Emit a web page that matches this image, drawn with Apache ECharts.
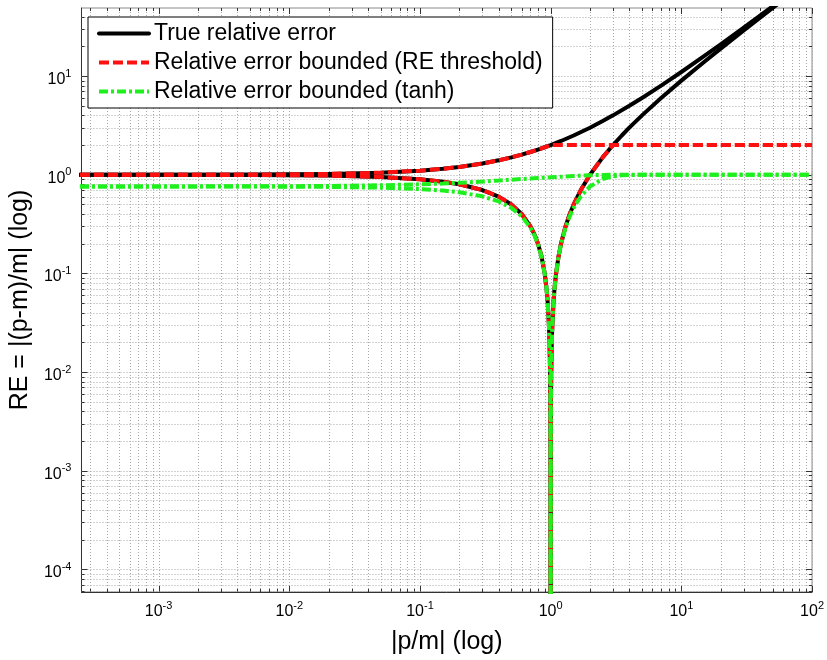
<!DOCTYPE html>
<html>
<head>
<meta charset="utf-8">
<script src="https://cdn.jsdelivr.net/npm/echarts/dist/echarts.min.js"></script>
<style>
html,body{margin:0;padding:0;background:#fff;}
#chart{width:827px;height:660px;}
</style>
</head>
<body>
<div id="chart"></div>
<script>
// ---- Data ----
// Upper branch (p and m of opposite sign)
const xUpper   = [0.00025, 0.0005, 0.001, 0.002, 0.005, 0.01, 0.02, 0.05, 0.1, 0.15, 0.2, 0.3, 0.4, 0.5, 0.6, 0.7, 0.8, 0.9, 1, 1.2, 1.5, 2, 2.5, 3, 4, 5, 7, 10, 15, 20, 30, 50, 70, 100];
const trueUpper = [1.00025, 1.0005, 1.001, 1.002, 1.005, 1.01, 1.02, 1.05, 1.1, 1.15, 1.2, 1.3, 1.4, 1.5, 1.6, 1.7, 1.8, 1.9, 2, 2.2, 2.5, 3, 3.5, 4, 5, 6, 8, 11, 16, 21, 31, 51, 71, 101];
const reUpper   = [1.00025, 1.0005, 1.001, 1.002, 1.005, 1.01, 1.02, 1.05, 1.1, 1.15, 1.2, 1.3, 1.4, 1.5, 1.6, 1.7, 1.8, 1.9, 2, 2, 2, 2, 2, 2, 2, 2, 2, 2, 2, 2, 2, 2, 2, 2];
const tanhUpper = [0.7617, 0.7618, 0.7620, 0.7624, 0.7637, 0.7658, 0.7699, 0.7818, 0.8000, 0.8150, 0.8290, 0.8530, 0.8740, 0.8910, 0.9050, 0.9160, 0.9260, 0.9340, 0.9410, 0.9550, 0.9720, 0.9880, 0.9960, 0.9990, 0.9999, 1, 1, 1, 1, 1, 1, 1, 1, 1];

// Lower branch, left of |p/m| = 1
const xLeft    = [0.00025, 0.0005, 0.001, 0.002, 0.005, 0.01, 0.02, 0.05, 0.1, 0.15, 0.2, 0.3, 0.4, 0.5, 0.6, 0.7, 0.75, 0.8, 0.85, 0.9, 0.93, 0.95, 0.97, 0.98, 0.99, 0.995, 0.998, 0.999, 0.9995, 0.9998, 0.9999, 0.99995, 0.99999];
const trueLeft = [0.99975, 0.9995, 0.999, 0.998, 0.995, 0.99, 0.98, 0.95, 0.9, 0.85, 0.8, 0.7, 0.6, 0.5, 0.4, 0.3, 0.25, 0.2, 0.15, 0.1, 0.07, 0.05, 0.03, 0.02, 0.01, 0.005, 0.002, 0.001, 0.0005, 0.0002, 0.0001, 0.00005, 0.00001];
const reLeft   = [0.99975, 0.9995, 0.999, 0.998, 0.995, 0.99, 0.98, 0.95, 0.9, 0.85, 0.8, 0.7, 0.6, 0.5, 0.4, 0.3, 0.25, 0.2, 0.15, 0.1, 0.07, 0.05, 0.03, 0.02, 0.01, 0.005, 0.002, 0.001, 0.0005, 0.0002, 0.0001, 0.00005, 0.00001];
const tanhLeft = [0.7615, 0.7614, 0.7612, 0.7607, 0.7595, 0.7574, 0.7531, 0.7398, 0.7163, 0.6911, 0.6640, 0.6044, 0.5370, 0.4621, 0.3799, 0.2913, 0.2449, 0.1974, 0.1489, 0.0997, 0.0699, 0.0500, 0.0300, 0.0200, 0.0100, 0.005, 0.002, 0.001, 0.0005, 0.0002, 0.0001, 0.00005, 0.00001];

// Lower branch, right of |p/m| = 1
const xRight    = [1.00001, 1.00005, 1.0001, 1.0002, 1.0005, 1.001, 1.002, 1.005, 1.01, 1.02, 1.03, 1.05, 1.07, 1.1, 1.15, 1.2, 1.3, 1.4, 1.5, 1.7, 2, 2.5, 3, 3.5, 4, 5, 7, 10, 15, 20, 30, 50, 70, 100];
const trueRight = [0.00001, 0.00005, 0.0001, 0.0002, 0.0005, 0.001, 0.002, 0.005, 0.01, 0.02, 0.03, 0.05, 0.07, 0.1, 0.15, 0.2, 0.3, 0.4, 0.5, 0.7, 1, 1.5, 2, 2.5, 3, 4, 6, 9, 14, 19, 29, 49, 69, 99];
const reRight   = [0.00001, 0.00005, 0.0001, 0.0002, 0.0005, 0.001, 0.002, 0.005, 0.01, 0.02, 0.03, 0.05, 0.07, 0.1, 0.15, 0.2, 0.3, 0.4, 0.5, 0.7, 1, 1.5, 2, 2, 2, 2, 2, 2, 2, 2, 2, 2, 2, 2];
const tanhRight = [0.00001, 0.00005, 0.0001, 0.0002, 0.0005, 0.001, 0.002, 0.005, 0.01, 0.02, 0.03, 0.05, 0.0699, 0.0997, 0.1489, 0.1974, 0.2913, 0.3799, 0.4621, 0.6044, 0.7616, 0.9051, 0.9640, 0.9866, 0.9951, 0.9993, 1, 1, 1, 1, 1, 1, 1, 1];

const seriesNames = ['True relative error', 'Relative error bounded (RE threshold)', 'Relative error bounded (tanh)'];

// Axis ranges and grid decades
const X_MIN = 2.57e-4, X_MAX = 100;
const Y_MIN = 5.9e-5, Y_MAX = 49;
const xDecades = [1e-4, 1e-3, 1e-2, 1e-1, 1, 10, 100];
const yDecades = [1e-5, 1e-4, 1e-3, 1e-2, 1e-1, 1, 10];
const multipliers = [1, 2, 3, 4, 5, 6, 7, 8, 9];

function gridValues(decades, lo, hi) {
  const out = [];
  decades.forEach(d => multipliers.forEach(m => {
    const v = d * m;
    if (v >= lo * 0.9999 && v <= hi * 1.0001) out.push([v, m === 1 ? 1 : 0]);
  }));
  return out;
}
const xGrid = gridValues(xDecades, X_MIN, X_MAX);
const yGrid = gridValues(yDecades, Y_MIN, Y_MAX);

const zip = (xs, ys) => xs.map((x, i) => [x, ys[i]]);

const chart = echarts.init(document.getElementById('chart'), null, {renderer: 'canvas'});
const FONT = 'Liberation Sans, Arial, Helvetica, sans-serif';
const GRID_STYLE = {stroke: '#a8a8a8', lineWidth: 1, lineDash: [1, 2]};
const px = v => Math.round(v) + 0.5;

function vGridItem(params, api) {
  const v = api.value(0);
  const a = api.coord([v, Y_MIN]), b = api.coord([v, Y_MAX]);
  const x = px(a[0]);
  const tl = api.value(2) ? 6 : 3;
  return {type: 'group', children: [
    {type: 'line', shape: {x1: x, y1: a[1], x2: x, y2: b[1]}, style: GRID_STYLE, silent: true},
    {type: 'line', shape: {x1: x, y1: a[1], x2: x, y2: a[1] - tl}, style: {stroke: '#333', lineWidth: 1}, silent: true},
    {type: 'line', shape: {x1: x, y1: b[1], x2: x, y2: b[1] + tl}, style: {stroke: '#333', lineWidth: 1}, silent: true}
  ]};
}
function hGridItem(params, api) {
  const v = api.value(1);
  const a = api.coord([X_MIN, v]), b = api.coord([X_MAX, v]);
  const y = px(a[1]);
  const tl = api.value(2) ? 6 : 3;
  return {type: 'group', children: [
    {type: 'line', shape: {x1: a[0], y1: y, x2: b[0], y2: y}, style: GRID_STYLE, silent: true},
    {type: 'line', shape: {x1: a[0], y1: y, x2: a[0] + tl, y2: y}, style: {stroke: '#333', lineWidth: 1}, silent: true},
    {type: 'line', shape: {x1: b[0], y1: y, x2: b[0] - tl, y2: y}, style: {stroke: '#333', lineWidth: 1}, silent: true}
  ]};
}

const expLabel = v => {
  const e = Math.round(Math.log10(v));
  return '{b|10}{e|' + e + '}';
};
const richLabel = {
  b: {fontSize: 16, lineHeight: 16, padding: [7, 0, 0, 0], color: '#000', fontFamily: FONT},
  e: {fontSize: 11, lineHeight: 11, verticalAlign: 'top', color: '#000', fontFamily: FONT}
};

const RED_DASH = [10, 4], GREEN_DASH = [9, 3, 3, 3];
const lineBlack = {color: '#000000', width: 4, type: 'solid', cap: 'round', join: 'round'};
const lineRed = {color: '#ff1010', width: 4, type: RED_DASH, cap: 'butt'};
const lineGreen = {color: '#1ef01e', width: 4, type: GREEN_DASH, cap: 'butt'};

function curve(id, name, data, lineStyle, z) {
  return {
    id: id, name: name, type: 'line', data: data, symbol: 'none', showSymbol: false,
    lineStyle: lineStyle, itemStyle: {color: lineStyle.color}, z: z, clip: true,
    smooth: false, silent: true
  };
}

const option = {
  animation: false,
  backgroundColor: '#ffffff',
  textStyle: {fontFamily: FONT},
  grid: {left: 79, right: 9, top: 8, bottom: 64, show: true, borderColor: '#8a8a8a', borderWidth: 1, backgroundColor: '#fff'},
  legend: {
    data: seriesNames,
    orient: 'vertical',
    left: 88, top: 17,
    padding: [5, 10, 5, 9],
    itemWidth: 50, itemHeight: 14, itemGap: 6,
    backgroundColor: '#ffffff', borderColor: '#000', borderWidth: 1,
    textStyle: {fontSize: 23, color: '#000', fontFamily: FONT},
    lineStyle: {width: 4},
    itemStyle: {opacity: 0, borderWidth: 0},
    selectedMode: false,
    z: 10
  },
  xAxis: {
    type: 'log', logBase: 10, min: X_MIN, max: X_MAX,
    name: '|p/m| (log)', nameLocation: 'middle', nameGap: 38,
    nameTextStyle: {fontSize: 25, color: '#000', fontFamily: FONT},
    axisLine: {show: true, lineStyle: {color: '#333', width: 1}},
    axisTick: {show: false},
    splitLine: {show: false},
    minorTick: {show: false},
    axisLabel: {formatter: expLabel, rich: richLabel, margin: 8, showMinLabel: false, showMaxLabel: true, hideOverlap: false}
  },
  yAxis: {
    type: 'log', logBase: 10, min: Y_MIN, max: Y_MAX,
    name: 'RE = |(p-m)/m| (log)', nameLocation: 'middle', nameGap: 32,
    nameTextStyle: {fontSize: 25, color: '#000', fontFamily: FONT},
    axisLine: {show: true, lineStyle: {color: '#333', width: 1}},
    axisTick: {show: false},
    splitLine: {show: false},
    minorTick: {show: false},
    axisLabel: {formatter: expLabel, rich: richLabel, margin: 10, showMinLabel: false, showMaxLabel: false, hideOverlap: false}
  },
  series: [
    {type: 'custom', renderItem: vGridItem, data: xGrid.map(g => [g[0], Y_MIN, g[1]]), encode: {x: 0, y: 1}, z: 1, silent: true, clip: false},
    {type: 'custom', renderItem: hGridItem, data: yGrid.map(g => [X_MIN, g[0], g[1]]), encode: {x: 0, y: 1}, z: 1, silent: true, clip: false},
    curve('bU', seriesNames[0], zip(xUpper, trueUpper), lineBlack, 3),
    curve('bL', seriesNames[0], zip(xLeft, trueLeft), lineBlack, 3),
    curve('bR', seriesNames[0], zip(xRight, trueRight), lineBlack, 3),
    curve('rU', seriesNames[1], zip(xUpper, reUpper), lineRed, 4),
    curve('rL', seriesNames[1], zip(xLeft, reLeft), lineRed, 4),
    curve('rR', seriesNames[1], zip(xRight, reRight), lineRed, 4),
    curve('gU', seriesNames[2], zip(xUpper, tanhUpper), lineGreen, 5),
    curve('gL', seriesNames[2], zip(xLeft, tanhLeft), lineGreen, 5),
    curve('gR', seriesNames[2], zip(xRight, tanhRight), lineGreen, 5)
  ]
};
chart.setOption(option);

// Align the dash phase of overlapping flat segments so they read as one dashed line
function pathLenTo(xs, ys, xStop) {
  let L = 0, prev = null;
  for (let i = 0; i < xs.length; i++) {
    if (xs[i] > xStop * 1.000001) break;
    const p = chart.convertToPixel({gridIndex: 0}, [xs[i], ys[i]]);
    if (prev) L += Math.hypot(p[0] - prev[0], p[1] - prev[1]);
    prev = p;
  }
  return L;
}
const period = arr => arr.reduce((s, v) => s + v, 0);
const redOff = ((pathLenTo(xUpper, reUpper, 3) - pathLenTo(xRight, reRight, 3)) % period(RED_DASH) + period(RED_DASH)) % period(RED_DASH);
const greenOff = ((pathLenTo(xUpper, tanhUpper, 7) - pathLenTo(xRight, tanhRight, 7)) % period(GREEN_DASH) + period(GREEN_DASH)) % period(GREEN_DASH);
chart.setOption({series: [
  {id: 'rR', lineStyle: {dashOffset: redOff}},
  {id: 'gR', lineStyle: {dashOffset: greenOff}}
]});
</script>
</body>
</html>
